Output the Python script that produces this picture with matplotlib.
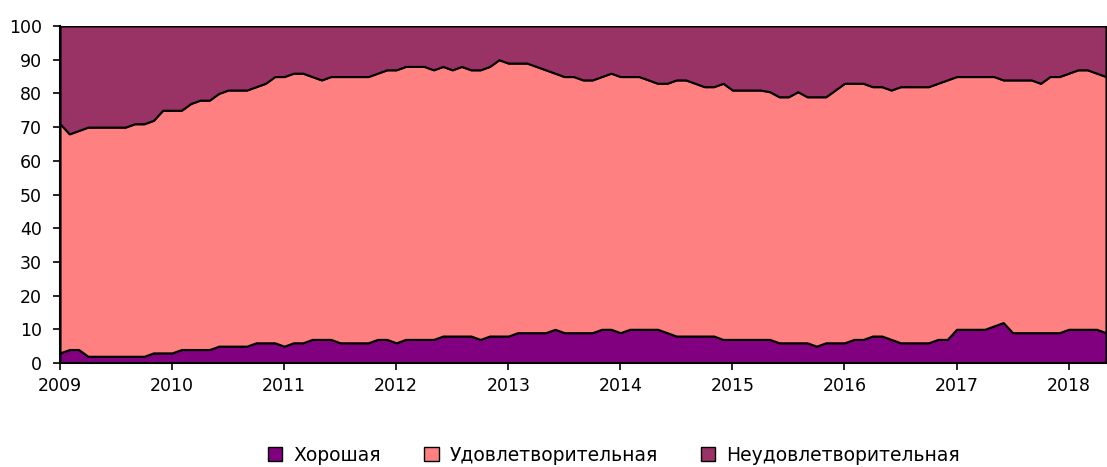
import matplotlib
matplotlib.use("Agg")
import matplotlib.pyplot as plt
from matplotlib.patches import Patch
import numpy as np

years = ["2009", "2010", "2011", "2012", "2013", "2014", "2015", "2016", "2017", "2018"]
labels = ["Хорошая", "Удовлетворительная", "Неудовлетворительная"]
colors = ["#800080", "#FF8080", "#993366"]

# monthly values, Jan 2009 .. May 2018
good = [3, 4, 4, 2, 2, 2, 2, 2, 2, 2, 3, 3,
        3, 4, 4, 4, 4, 5, 5, 5, 5, 6, 6, 6,
        5, 6, 6, 7, 7, 7, 6, 6, 6, 6, 7, 7,
        6, 7, 7, 7, 7, 8, 8, 8, 8, 7, 8, 8,
        8, 9, 9, 9, 9, 10, 9, 9, 9, 9, 10, 10,
        9, 10, 10, 10, 10, 9, 8, 8, 8, 8, 8, 7,
        7, 7, 7, 7, 7, 6, 6, 6, 6, 5, 6, 6,
        6, 7, 7, 8, 8, 7, 6, 6, 6, 6, 7, 7,
        10, 10, 10, 10, 11, 12, 9, 9, 9, 9, 9, 9,
        10, 10, 10, 10, 9]
satisfactory = [68, 64, 65, 68, 68, 68, 68, 68, 69, 69, 69, 72,
                72, 71, 73, 74, 74, 75, 76, 76, 76, 76, 77, 79,
                80, 80, 80, 78, 77, 78, 79, 79, 79, 79, 79, 80,
                81, 81, 81, 81, 80, 80, 79, 80, 79, 80, 80, 82,
                81, 80, 80, 79, 78, 76, 76, 76, 75, 75, 75, 76,
                76, 75, 75, 74, 73, 74, 76, 76, 75, 74, 74, 76,
                74, 74, 74, 74, 73.5, 73, 73, 74.5, 73, 74, 73, 75,
                77, 76, 76, 74, 74, 74, 76, 76, 76, 76, 76, 77,
                75, 75, 75, 75, 74, 72, 75, 75, 75, 74, 76, 76,
                76, 77, 77, 76, 76]
unsatisfactory = [29, 32, 31, 30, 30, 30, 30, 30, 29, 29, 28, 25,
                  25, 25, 23, 22, 22, 20, 19, 19, 19, 18, 17, 15,
                  15, 14, 14, 15, 16, 15, 15, 15, 15, 15, 14, 13,
                  13, 12, 12, 12, 13, 12, 13, 12, 13, 13, 12, 10,
                  11, 11, 11, 12, 13, 14, 15, 15, 16, 16, 15, 14,
                  15, 15, 15, 16, 17, 17, 16, 16, 17, 18, 18, 17,
                  19, 19, 19, 19, 19.5, 21, 21, 19.5, 21, 21, 21, 19,
                  17, 17, 17, 18, 18, 19, 18, 18, 18, 18, 17, 16,
                  15, 15, 15, 15, 15, 16, 16, 16, 16, 17, 15, 15,
                  14, 13, 13, 14, 15]

x = np.arange(len(good))

fig = plt.figure(figsize=(11.07, 4.67), dpi=100)
ax = fig.add_axes([60/1107, 1-363/467, 1-61/1107, (363-26)/467])

ax.stackplot(x, good, satisfactory, unsatisfactory, colors=colors,
             edgecolor="black", linewidth=1.5)

ax.set_xlim(0, len(good) - 1)
ax.set_ylim(0, 100)
ax.set_yticks(range(0, 101, 10))
ax.set_xticks(np.arange(len(years)) * 12)
ax.set_xticklabels(years)
ax.tick_params(axis="both", labelsize=12.5, direction="out", length=5, width=1.2, colors="black")
ax.tick_params(axis="x", pad=5)
ax.tick_params(axis="y", pad=8)
for s in ["left", "bottom"]:
    ax.spines[s].set_linewidth(1.5)
for s in ["top", "right"]:
    ax.spines[s].set_visible(False)

handles = [Patch(facecolor=c, edgecolor="black", linewidth=1.0) for c in colors]
fig.legend(handles, labels, loc="center", bbox_to_anchor=(0.555, 0.025), ncol=3,
           frameon=False, fontsize=13.5, handlelength=0.75, handleheight=0.75,
           handletextpad=0.6, columnspacing=2.3)

fig.savefig("out.png", dpi=100)
